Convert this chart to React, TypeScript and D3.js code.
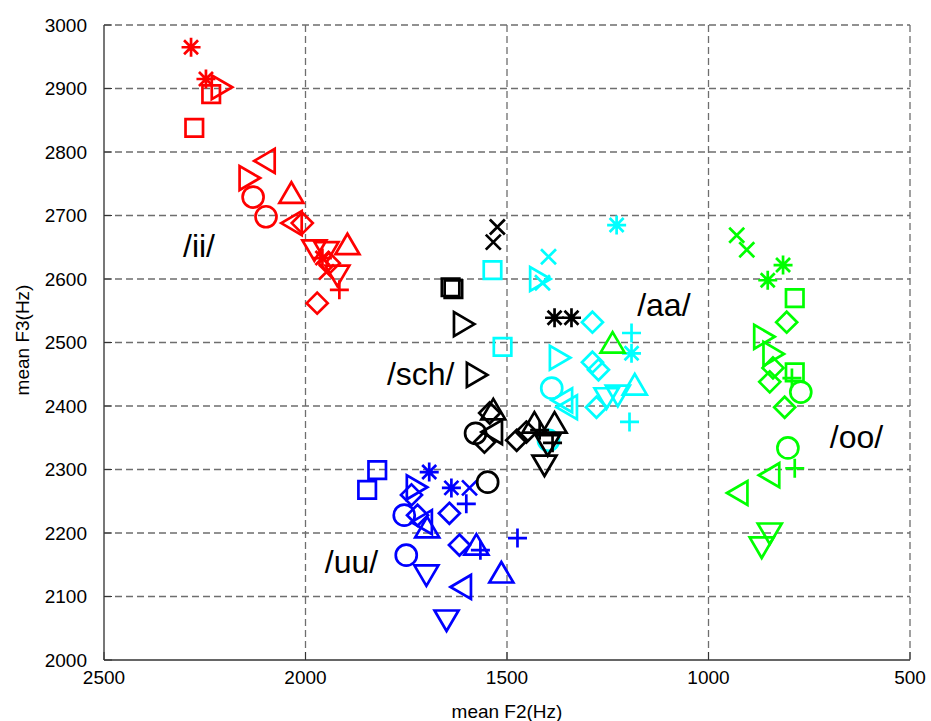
import React from 'react';
import * as d3 from 'd3';

// marker codes: '*' asterisk, 's' square, 'o' circle, 'd' diamond, '^' 'v' '<' '>' triangles, '+' plus, 'x' cross
const iiMarkers = ['*', '*', '>', 's', 's', '<', '>', 'o', '^', 'o', 'd', '<', '^', 'v', 'v', '*', 'd', 'x', 'v', '+', 'd'];
const iiF2 = [2284, 2247, 2209, 2234, 2276, 2100, 2140, 2130, 2035, 2098, 2008, 2033, 1896, 1978, 1948, 1958, 1941, 1948, 1921, 1916, 1971];
const iiF3 = [2965, 2915, 2902, 2891, 2838, 2786, 2759, 2729, 2735, 2698, 2688, 2688, 2654, 2646, 2643, 2633, 2625, 2611, 2606, 2583, 2562];

const aaMarkers = ['*', 'x', '>', 'x', 's', 's', 'd', '+', '>', '*', 'd', 'd', '^', 'o', '<', '<', 'd', 'v', 'v', '+', 'o'];
const aaF2 = [1228, 1397, 1419, 1412, 1536, 1511, 1288, 1191, 1370, 1191, 1288, 1273, 1183, 1389, 1362, 1350, 1278, 1253, 1225, 1196, 1397];
const aaF3 = [2685, 2635, 2600, 2594, 2614, 2493, 2532, 2515, 2476, 2483, 2469, 2457, 2433, 2428, 2409, 2398, 2398, 2413, 2417, 2375, 2346];

const ooMarkers = ['x', 'x', '*', '*', 's', 'd', '>', '>', 'd', 'd', 's', '+', 'o', 'd', 'o', '+', '<', '<', 'v', 'v', '^'];
const ooF2 = [930, 905, 815, 853, 786, 806, 863, 840, 840, 848, 786, 793, 771, 811, 803, 786, 848, 927, 848, 868, 1238];
const ooF3 = [2669, 2646, 2622, 2598, 2570, 2532, 2509, 2482, 2460, 2438, 2453, 2444, 2422, 2398, 2334, 2302, 2291, 2263, 2200, 2178, 2499];

const uuMarkers = ['s', 's', '*', '>', '*', 'x', '+', 'd', 'o', 'd', '<', '^', 'd', 'd', '^', '+', '+', 'o', 'v', '<', '^', 'v'];
const uuF2 = [1822, 1847, 1693, 1725, 1638, 1593, 1601, 1737, 1755, 1722, 1710, 1698, 1643, 1618, 1576, 1566, 1474, 1750, 1700, 1613, 1514, 1650];
const uuF3 = [2299, 2268, 2296, 2272, 2271, 2271, 2246, 2260, 2228, 2228, 2217, 2208, 2231, 2181, 2181, 2173, 2192, 2165, 2134, 2115, 2137, 2063];

const schMarkers = ['x', 'x', 's', 's', '>', '>', '*', '*', 'd', '^', 'o', '<', 'd', 'd', 'd', '^', '^', '+', '+', 'v', 'v', 'o'];
const schF2 = [1524, 1534, 1640, 1633, 1608, 1576, 1382, 1340, 1543, 1534, 1578, 1536, 1556, 1476, 1452, 1432, 1382, 1419, 1387, 1407, 1399, 1548];
const schF3 = [2682, 2658, 2587, 2584, 2529, 2449, 2539, 2539, 2389, 2394, 2357, 2359, 2343, 2346, 2359, 2373, 2373, 2362, 2342, 2307, 2339, 2280];

const vowelLabels = ['/ii/', '/aa/', '/sch/', '/uu/', '/oo/'];
const labelF2 = [2304, 1177, 1798, 1952, 699];
const labelF3 = [2635, 2542, 2433, 2137, 2334];

const xTicks = [2500, 2000, 1500, 1000, 500];
const yTicks = [2000, 2100, 2200, 2300, 2400, 2500, 2600, 2700, 2800, 2900, 3000];

const markerPath = (m: string): string => {
  switch (m) {
    case 'o':
      return 'M10.5,0A10.5,10.5 0 1,1 -10.5,0A10.5,10.5 0 1,1 10.5,0Z';
    case 's':
      return 'M-8.75,-8.75H8.75V8.75H-8.75Z';
    case 'd':
      return 'M0,-10.5L10.5,0L0,10.5L-10.5,0Z';
    case '^':
      return 'M0,-11L12,9.5L-12,9.5Z';
    case 'v':
      return 'M0,11L12,-9.5L-12,-9.5Z';
    case '>':
      return 'M11,0L-9.5,-12L-9.5,12Z';
    case '<':
      return 'M-11,0L9.5,-12L9.5,12Z';
    case '+':
      return 'M-9.5,0H9.5M0,-9.5V9.5';
    case 'x':
      return 'M-7.5,-7.5L7.5,7.5M-7.5,7.5L7.5,-7.5';
    default:
      return 'M-9.5,0H9.5M0,-9.5V9.5M-7,-7L7,7M-7,7L7,-7';
  }
};

const App: React.FC = () => {
  const x = d3.scaleLinear().domain([2500, 500]).range([104, 910]);
  const y = d3.scaleLinear().domain([2000, 3000]).range([660, 25]);

  const groups = [
    { color: '#ff0000', markers: iiMarkers, f2: iiF2, f3: iiF3 },
    { color: '#00ffff', markers: aaMarkers, f2: aaF2, f3: aaF3 },
    { color: '#00ff00', markers: ooMarkers, f2: ooF2, f3: ooF3 },
    { color: '#0000ff', markers: uuMarkers, f2: uuF2, f3: uuF3 },
    { color: '#000000', markers: schMarkers, f2: schF2, f3: schF3 },
  ];

  const font = 'Arial, "Liberation Sans", sans-serif';

  return (
    <svg width={931} height={721} style={{ position: 'absolute', left: 0, top: 0, background: '#fff' }}>
      <rect x={0} y={0} width={931} height={721} fill="#fff" />
      {/* grid */}
      <g stroke="#6e6e6e" strokeWidth={1.3} strokeDasharray="7,4">
        {xTicks.slice(1).map(t => (
          <line key={'gx' + t} x1={x(t)} x2={x(t)} y1={y(3000)} y2={y(2000)} />
        ))}
        {yTicks.slice(1).map(t => (
          <line key={'gy' + t} x1={x(2500)} x2={x(500)} y1={y(t)} y2={y(t)} />
        ))}
      </g>
      {/* axes */}
      <line x1={x(2500)} x2={x(2500)} y1={y(3000)} y2={y(2000)} stroke="#555" strokeWidth={1.6} />
      <line x1={x(2500)} x2={x(500)} y1={y(2000)} y2={y(2000)} stroke="#333" strokeWidth={1.6} />
      <g stroke="#333" strokeWidth={1}>
        {xTicks.map(t => (
          <line key={'tx' + t} x1={x(t)} x2={x(t)} y1={y(2000)} y2={y(2000) - 8} />
        ))}
        {yTicks.map(t => (
          <line key={'ty' + t} x1={x(2500)} x2={x(2500) + 8} y1={y(t)} y2={y(t)} />
        ))}
      </g>
      {/* tick labels */}
      <g fontFamily={font} fontSize={19} fill="#000">
        {yTicks.map(t => (
          <text key={'ly' + t} x={87} y={y(t)} dy="0.35em" textAnchor="end">{t}</text>
        ))}
        {xTicks.map(t => (
          <text key={'lx' + t} x={x(t)} y={684} textAnchor="middle">{t}</text>
        ))}
      </g>
      <text x={507} y={718} textAnchor="middle" fontFamily={font} fontSize={19}>mean F2(Hz)</text>
      <text transform={`translate(29,340) rotate(-90)`} textAnchor="middle" fontFamily={font} fontSize={19}>mean F3(Hz)</text>
      {/* markers */}
      {groups.map((g, gi) => (
        <g key={'g' + gi} fill="none" stroke={g.color} strokeWidth={2.7}>
          {g.markers.map((m, i) => (
            <path key={i} d={markerPath(m)} transform={`translate(${x(g.f2[i])},${y(g.f3[i])})`} />
          ))}
        </g>
      ))}
      {/* vowel labels */}
      <g fontFamily={font} fontSize={32} fill="#000">
        {vowelLabels.map((l, i) => (
          <text key={l} x={x(labelF2[i])} y={y(labelF3[i])}>{l}</text>
        ))}
      </g>
    </svg>
  );
};

export default App;
